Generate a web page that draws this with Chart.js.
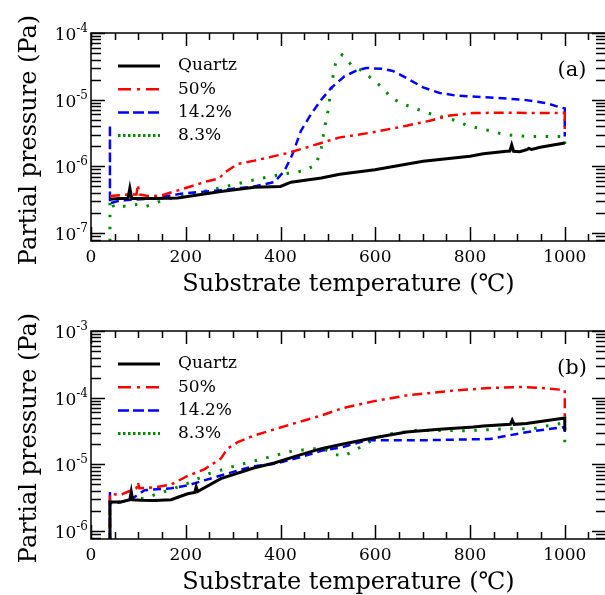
<!DOCTYPE html>
<html>
<head>
<meta charset="utf-8">
<script src="https://cdn.jsdelivr.net/npm/chart.js@4"></script>
<style>
  html, body { margin: 0; padding: 0; background: #fff; overflow: hidden; width: 605px; height: 595px; }
  canvas { display: block; }
</style>
</head>
<body>
<canvas id="chartA" width="606" height="298"></canvas>
<canvas id="chartB" width="606" height="297"></canvas>
<script>
// labels of the four samples
const seriesLabels = ["Quartz", "50%", "14.2%", "8.3%"];
const xTickLabels = [0, 200, 400, 600, 800, 1000];

// ---- panel (a) : temperatures (C) and partial pressures (Pa)
const aQuartzT = [40, 60, 78, 82, 86, 134, 183, 274, 345, 400, 422, 486, 525, 599, 701, 800, 828, 877, 884, 888, 892, 905, 920, 924, 930, 948, 1000];
const aQuartzP = [3.2e-7, 3.3e-7, 3.3e-7, 4.7e-7, 3.3e-7, 3.3e-7, 3.35e-7, 4.2e-7, 4.85e-7, 5.0e-7, 5.8e-7, 6.7e-7, 7.6e-7, 8.9e-7, 1.19e-6, 1.42e-6, 1.55e-6, 1.68e-6, 1.7e-6, 2.1e-6, 1.68e-6, 1.66e-6, 1.78e-6, 1.86e-6, 1.8e-6, 1.93e-6, 2.24e-6];

const aRedT = [40, 60, 80, 96, 99, 102, 120, 134, 150, 190, 246, 268, 274, 281, 310, 345, 415, 486, 523, 595, 666, 715, 757, 807, 877, 948, 1000, 1000];
const aRedP = [3.6e-7, 3.7e-7, 3.8e-7, 3.8e-7, 5.3e-7, 3.8e-7, 3.6e-7, 3.6e-7, 3.7e-7, 4.5e-7, 6.0e-7, 6.5e-7, 7.0e-7, 8.0e-7, 1.09e-6, 1.22e-6, 1.58e-6, 2.24e-6, 2.7e-6, 3.24e-6, 4.07e-6, 4.84e-6, 5.8e-6, 6.3e-6, 6.4e-6, 6.3e-6, 6.3e-6, 3.5e-6];

const aBlueT = [40, 40, 40, 63, 134, 190, 274, 345, 387, 408, 425, 443, 464, 486, 507, 535, 560, 581, 616, 637, 666, 701, 736, 771, 842, 912, 961, 989, 1000, 1000];
const aBlueP = [3.0e-7, 4.2e-6, 2.8e-7, 3.1e-7, 3.3e-7, 3.9e-7, 4.4e-7, 5.0e-7, 5.8e-7, 8.5e-7, 1.5e-6, 3.4e-6, 6.0e-6, 1.0e-5, 1.5e-5, 2.25e-5, 2.72e-5, 2.99e-5, 2.9e-5, 2.7e-5, 2.11e-5, 1.53e-5, 1.26e-5, 1.15e-5, 1.08e-5, 1.0e-5, 8.9e-6, 7.7e-6, 7.4e-6, 2.8e-6];

const aGreenT = [40, 40, 49, 99, 116, 155, 190, 274, 345, 398, 450, 475, 486, 493, 500, 510, 517, 530, 549, 574, 595, 616, 634, 659, 686, 711, 737, 764, 791, 815, 842, 868, 894, 922, 948, 974, 1000, 1000];
const aGreenP = [5e-8, 3.2e-7, 2.4e-7, 2.7e-7, 2.5e-7, 3.16e-7, 3.55e-7, 4.8e-7, 6.3e-7, 7.5e-7, 8.6e-7, 1.06e-6, 1.88e-6, 3.77e-6, 6.7e-6, 2.1e-5, 3.76e-5, 4.7e-5, 3.35e-5, 2.66e-5, 2.0e-5, 1.5e-5, 1.06e-5, 8.6e-6, 7.3e-6, 6.3e-6, 5.6e-6, 5.0e-6, 4.2e-6, 3.77e-6, 3.43e-6, 3.05e-6, 2.9e-6, 2.8e-6, 2.8e-6, 2.8e-6, 2.8e-6, 1.9e-6];

// ---- panel (b)
const bQuartzT = [40, 40, 63, 82, 85, 88, 106, 134, 169, 204, 219, 222, 225, 274, 345, 387, 443, 486, 530, 595, 666, 736, 807, 828, 885, 889, 893, 919, 1000, 1000];
const bQuartzP = [5e-7, 2.73e-6, 2.73e-6, 2.95e-6, 3.9e-6, 2.95e-6, 2.9e-6, 2.87e-6, 2.95e-6, 3.63e-6, 3.8e-6, 4.6e-6, 3.9e-6, 6.1e-6, 8.9e-6, 1.05e-5, 1.4e-5, 1.72e-5, 2.0e-5, 2.48e-5, 3.05e-5, 3.35e-5, 3.63e-5, 3.75e-5, 3.98e-5, 4.6e-5, 3.98e-5, 4.1e-5, 4.95e-5, 3.2e-5];

const bRedT = [40, 40, 63, 96, 99, 102, 134, 169, 204, 239, 274, 288, 310, 345, 415, 486, 532, 595, 666, 736, 771, 842, 912, 961, 1000, 1000];
const bRedP = [5e-7, 3.6e-6, 3.5e-6, 4.4e-6, 5.4e-6, 4.4e-6, 4.5e-6, 5.0e-6, 6.7e-6, 8.4e-6, 1.22e-5, 1.72e-5, 2.16e-5, 2.72e-5, 3.85e-5, 5.4e-5, 7.0e-5, 8.8e-5, 1.08e-4, 1.22e-4, 1.29e-4, 1.4e-4, 1.45e-4, 1.38e-4, 1.3e-4, 4.8e-5];

const bBlueT = [40, 40, 40, 63, 85, 113, 169, 204, 239, 274, 310, 345, 387, 443, 486, 530, 581, 623, 701, 771, 842, 912, 961, 1000, 1000];
const bBlueP = [5e-7, 3.86e-6, 2.6e-6, 2.73e-6, 3.0e-6, 4.1e-6, 4.37e-6, 4.84e-6, 5.75e-6, 6.8e-6, 8.1e-6, 9.4e-6, 1.02e-5, 1.29e-5, 1.6e-5, 1.8e-5, 2.3e-5, 2.3e-5, 2.3e-5, 2.35e-5, 2.4e-5, 2.98e-5, 3.35e-5, 3.63e-5, 2.72e-5];

const bGreenT = [40, 40, 49, 77, 116, 134, 169, 204, 250, 300, 360, 419, 468, 493, 517, 533, 557, 581, 606, 634, 687, 796, 881, 933, 961, 989, 1000, 1000];
const bGreenP = [5e-7, 2.9e-6, 2.57e-6, 3.0e-6, 3.1e-6, 3.5e-6, 4.2e-6, 5.2e-6, 7.3e-6, 9.3e-6, 1.2e-5, 1.55e-5, 1.72e-5, 1.68e-5, 1.4e-5, 1.33e-5, 1.62e-5, 2.04e-5, 2.57e-5, 2.88e-5, 3.24e-5, 3.2e-5, 3.43e-5, 3.43e-5, 3.76e-5, 4.07e-5, 4.2e-5, 2.1e-5];

/*------------------------------------------
styles
-------------------------------------------*/
const FONT = "'DejaVu Serif', 'Liberation Serif', serif";
const colors = ["#000000", "#ff0000", "#0000ff", "#008b00"];
const widths = [3, 2.5, 2.5, 3];
const plotDash = [[], [10, 5, 3, 5], [8, 5], [2.5, 9.5]];
const legendDash = [[], [13, 6, 3, 6], [11, 4], [2.5, 2.5]];

function toXY(T, P) {
  return T.map((t, i) => ({ x: t, y: P[i] }));
}

function sup(v) {
  return Math.round(Math.log10(v));
}

// draws frame, inside ticks, labels, titles, legend and the panel tag
const framePlugin = {
  id: "frame",
  afterDraw(chart, args, opts) {
    const c = chart.ctx;
    const a = chart.chartArea;
    const xs = chart.scales.x;
    const ys = chart.scales.y;
    c.save();
    c.strokeStyle = "#000";
    c.fillStyle = "#000";
    c.lineWidth = 1.5;
    c.setLineDash([]);
    c.strokeRect(a.left, a.top, a.right - a.left, a.bottom - a.top);

    // x ticks every 50, major every 200
    for (let v = 0; v <= xs.max; v += 50) {
      const px = Math.round(xs.getPixelForValue(v)) + 0.5;
      const major = v % 200 === 0;
      c.beginPath();
      c.moveTo(px, a.bottom);
      c.lineTo(px, a.bottom - (major ? 14 : 7));
      c.moveTo(px, a.top);
      c.lineTo(px, a.top + (major ? 13 : 7));
      c.stroke();
    }
    c.font = "17px " + FONT;
    c.textAlign = "center";
    c.textBaseline = "middle";
    xTickLabels.forEach((v) => {
      c.fillText(String(v), xs.getPixelForValue(v), a.bottom + 17);
    });

    // log y ticks
    const e0 = Math.floor(Math.log10(ys.min));
    const e1 = Math.ceil(Math.log10(ys.max));
    for (let e = e0; e <= e1; e++) {
      for (let m = 1; m <= 9; m++) {
        const v = m * Math.pow(10, e);
        if (v < ys.min * 0.999 || v > ys.max * 1.001) continue;
        const py = Math.round(ys.getPixelForValue(v)) + 0.5;
        const len = m === 1 ? 14 : 10;
        c.beginPath();
        c.moveTo(a.left, py);
        c.lineTo(a.left + len, py);
        c.moveTo(a.right, py);
        c.lineTo(a.right - len, py);
        c.stroke();
        if (m === 1) {
          const ex = "-" + String(-e);
          c.font = "12px " + FONT;
          const ew = c.measureText(ex).width;
          c.textAlign = "left";
          c.fillText(ex, a.left - 3 - ew, py - 5);
          c.font = "17px " + FONT;
          c.textAlign = "right";
          c.fillText("10", a.left - 3 - ew, py + 2);
        }
      }
    }

    // axis titles
    c.font = "24px " + FONT;
    c.textAlign = "center";
    c.textBaseline = "alphabetic";
    c.fillText("Substrate temperature (\u2103)", (a.left + a.right) / 2, a.bottom + 50);
    c.save();
    c.translate(36, (a.top + a.bottom) / 2 + 3);
    c.rotate(-Math.PI / 2);
    c.fillText("Partial pressure (Pa)", 0, 0);
    c.restore();

    // panel tag
    c.font = "21px " + FONT;
    c.textBaseline = "middle";
    c.fillText(opts.tag, 572, a.top + 38);

    // legend
    c.font = "17px " + FONT;
    c.textAlign = "left";
    chart.data.datasets.forEach((ds, i) => {
      const y = a.top + 33 + i * 23.2;
      c.strokeStyle = ds.borderColor;
      c.lineWidth = ds.borderWidth;
      c.setLineDash(legendDash[i]);
      c.beginPath();
      c.moveTo(118, y);
      c.lineTo(160, y);
      c.stroke();
      c.fillStyle = "#000";
      c.fillText(ds.label, 178, y);
    });
    c.restore();
  },
};

function makeChart(id, series, yMin, yMax, tag, bottomPad) {
  const datasets = series.map((s, i) => ({
    label: seriesLabels[i],
    data: toXY(s[0], s[1]),
    borderColor: colors[i],
    borderWidth: widths[i],
    borderDash: plotDash[i],
    pointRadius: 0,
    tension: 0,
    fill: false,
  }));
  return new Chart(document.getElementById(id).getContext("2d"), {
    type: "line",
    data: { datasets: datasets },
    plugins: [framePlugin],
    options: {
      responsive: false,
      animation: false,
      layout: { padding: { left: 91, top: 33, right: 0, bottom: bottomPad } },
      scales: {
        x: { type: "linear", min: 0, max: 1087, display: false },
        y: { type: "logarithmic", min: yMin, max: yMax, display: false },
      },
      plugins: {
        legend: { display: false },
        tooltip: { enabled: false },
        frame: { tag: tag },
      },
    },
  });
}

makeChart("chartA", [[aQuartzT, aQuartzP], [aRedT, aRedP], [aBlueT, aBlueP], [aGreenT, aGreenP]], 7.6e-8, 1e-4, "(a)", 57);
makeChart("chartB", [[bQuartzT, bQuartzP], [bRedT, bRedP], [bBlueT, bBlueP], [bGreenT, bGreenP]], 7.6e-7, 1e-3, "(b)", 56);
</script>
</body>
</html>
